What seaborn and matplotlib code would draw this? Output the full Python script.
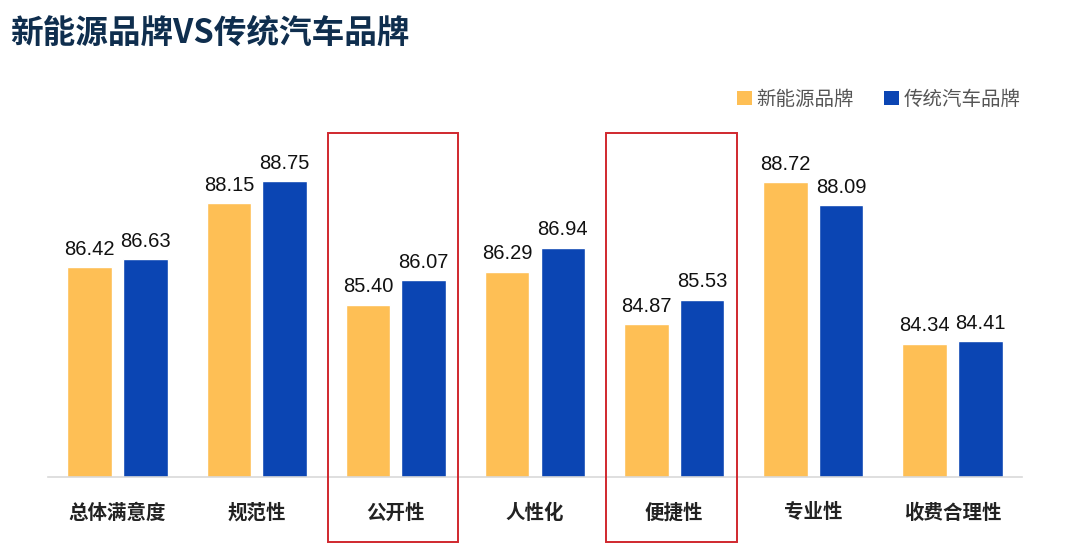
import matplotlib
matplotlib.use("Agg")
import matplotlib.pyplot as plt
import seaborn as sns
import pandas as pd
from matplotlib.patches import Rectangle, Patch
import matplotlib.transforms as mtransforms

categories = ["总体满意度", "规范性", "公开性", "人性化", "便捷性", "专业性", "收费合理性"]
series_names = ["新能源品牌", "传统汽车品牌"]
new_energy = [86.42, 88.15, 85.40, 86.29, 84.87, 88.72, 84.34]
traditional = [86.63, 88.75, 86.07, 86.94, 85.53, 88.09, 84.41]
highlighted = ["公开性", "便捷性"]
title = "新能源品牌VS传统汽车品牌"

colors = ["#FEBF55", "#0B45B3"]

sns.set_theme(style="white")
plt.rcParams['font.family'] = ['Noto Sans CJK SC', 'DejaVu Sans']

df = pd.DataFrame({
    "category": categories * 2,
    "series": [series_names[0]] * len(categories) + [series_names[1]] * len(categories),
    "value": new_energy + traditional,
})

W, H = 1080, 547
fig = plt.figure(figsize=(W / 100, H / 100), dpi=100)
left_px, right_px, bottom_px, top_px = 48, 1022, 477, 61
ax = fig.add_axes([left_px / W, 1 - bottom_px / H, (right_px - left_px) / W, (bottom_px - top_px) / H])

sns.barplot(data=df, x="category", y="value", hue="series", order=categories,
            hue_order=series_names, palette=colors, width=0.8, gap=0.2,
            saturation=1, ax=ax, legend=False)

ax.set_ylim(80.73, 92.0)
ax.set_xlim(-0.5, len(categories) - 0.5)
ax.set_xlabel("")
ax.set_ylabel("")
ax.set_yticks([])
for s in ["top", "right", "left"]:
    ax.spines[s].set_visible(False)
ax.spines["bottom"].set_color("#d9d9d9")
ax.spines["bottom"].set_linewidth(1.2)
ax.tick_params(axis="x", length=0, pad=19)
for lbl in ax.get_xticklabels():
    lbl.set_fontsize(14)
    lbl.set_fontweight("bold")
    lbl.set_color("#222222")

for cont in ax.containers:
    ax.bar_label(cont, fmt="%.2f", padding=6, fontsize=14.5, color="#111111",
                 family=["Liberation Sans", "DejaVu Sans"])

# highlight boxes
trans = mtransforms.blended_transform_factory(ax.transData, fig.transFigure)
for cat in highlighted:
    i = categories.index(cat)
    rect = Rectangle((i - 0.49, 1 - 542 / H), 0.94, (542 - 133) / H,
                     transform=trans, fill=False, edgecolor="#D0282E",
                     linewidth=1.4, clip_on=False)
    fig.add_artist(rect)

fig.text(10 / W, 1 - 33 / H, title, fontsize=23.5, fontweight="bold",
         color="#0F2E4E", va="center", ha="left")

handles = [Patch(facecolor=c, edgecolor="none") for c in colors]
fig.legend(handles, series_names, loc="center right", bbox_to_anchor=(1038 / W, 1 - 99 / H),
           ncol=2, frameon=False, fontsize=14, handlelength=0.75, handleheight=0.75,
           handletextpad=0.25, columnspacing=1.55, labelcolor="#555555")

fig.savefig("out.png", dpi=100)
